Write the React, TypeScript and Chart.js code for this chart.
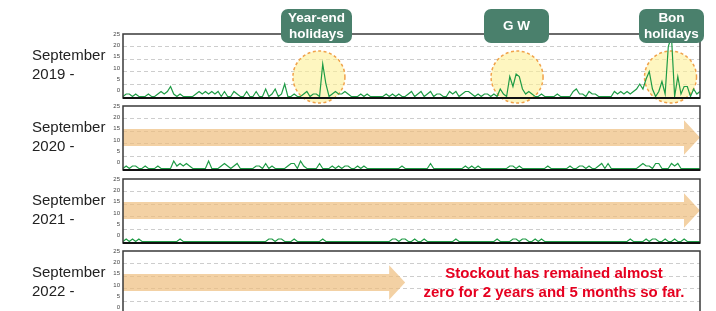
import React, { useEffect, useRef } from "react";
import { Chart, registerables } from "chart.js";

Chart.register(...registerables);

const FONT = '"Liberation Sans", Arial, Helvetica, sans-serif';

// ---------- data ----------
const periodLabels = [
  ["September", "2019 -"],
  ["September", "2020 -"],
  ["September", "2021 -"],
  ["September", "2022 -"],
];
const yTicks = [0, 5, 10, 15, 20, 25];
const dayLabels = Array.from({ length: 183 }, (_, i) => `Day ${i * 2 + 1}`);

const stockout2019 = [
  0, 1, 1, 0, 1, 0, 0, 0, 1, 0, 0, 1, 2, 1, 2, 4, 1, 0, 1, 0,
  0, 0, 0, 1, 2, 1, 2, 1, 2, 1, 2, 0, 2, 0, 0, 2, 1, 0, 0, 2,
  0, 0, 2, 0, 0, 3, 0, 1, 3, 0, 1, 5, 0, 0, 1, 0, 0, 1, 2, 0,
  1, 1, 0, 13, 5, 0, 1, 2, 1, 1, 2, 1, 0, 0, 0, 1, 0, 1, 0, 0,
  0, 0, 0, 1, 0, 1, 0, 1, 0, 0, 1, 2, 0, 1, 2, 0, 1, 2, 0, 1,
  1, 0, 0, 2, 1, 2, 0, 1, 2, 2, 1, 0, 1, 0, 1, 1, 0, 1, 0, 3,
  1, 0, 8, 4, 9, 8, 3, 1, 2, 1, 0, 0, 1, 0, 0, 0, 0, 1, 0, 0,
  0, 0, 2, 3, 1, 1, 0, 2, 1, 1, 0, 0, 0, 0, 0, 2, 1, 2, 1, 2,
  1, 2, 3, 5, 3, 7, 10, 3, 0, 2, 6, 1, 20, 24, 0, 8, 1, 4, 4, 0,
  3, 1, 2,
];
const stockout2020 = [
  0, 1, 0, 1, 1, 0, 0, 1, 0, 0, 0, 1, 0, 0, 0, 0, 3, 1, 2, 1,
  2, 1, 0, 0, 0, 0, 0, 3, 0, 0, 0, 1, 2, 1, 0, 1, 2, 0, 0, 0,
  0, 0, 1, 1, 0, 2, 0, 1, 0, 0, 0, 0, 1, 2, 2, 0, 3, 1, 0, 0,
  0, 0, 2, 0, 0, 0, 1, 0, 1, 0, 1, 1, 0, 0, 1, 0, 1, 0, 0, 0,
  0, 0, 0, 0, 0, 0, 0, 0, 1, 0, 0, 0, 0, 0, 0, 0, 0, 2, 0, 0,
  0, 0, 0, 0, 0, 0, 0, 0, 1, 0, 1, 0, 1, 0, 0, 0, 0, 0, 0, 0,
  0, 0, 1, 1, 0, 1, 0, 0, 0, 0, 0, 0, 0, 0, 1, 0, 0, 0, 0, 0,
  0, 1, 0, 0, 1, 1, 0, 1, 0, 0, 1, 2, 0, 2, 0, 0, 0, 0, 0, 0,
  0, 0, 0, 1, 2, 1, 1, 0, 2, 2, 0, 0, 0, 2, 1, 2, 0, 0, 0, 0,
  0, 0, 0,
];
const stockout2021 = [
  0, 1, 0, 1, 0, 1, 0, 0, 0, 0, 0, 0, 0, 0, 0, 0, 0, 0, 1, 0,
  0, 0, 0, 0, 0, 0, 0, 0, 0, 0, 0, 0, 0, 0, 0, 0, 0, 0, 0, 0,
  0, 0, 0, 0, 0, 0, 1, 1, 0, 1, 1, 0, 0, 0, 1, 0, 0, 0, 0, 0,
  0, 0, 0, 1, 0, 0, 0, 0, 0, 0, 0, 0, 0, 0, 0, 0, 0, 0, 0, 0,
  0, 0, 0, 0, 0, 1, 1, 0, 1, 1, 0, 0, 1, 0, 0, 1, 0, 0, 0, 0,
  0, 0, 0, 0, 0, 1, 0, 0, 0, 0, 0, 0, 0, 0, 0, 0, 0, 0, 1, 0,
  0, 0, 0, 1, 1, 0, 1, 1, 0, 0, 1, 0, 1, 0, 0, 0, 0, 0, 0, 0,
  0, 0, 0, 0, 0, 0, 0, 0, 0, 0, 0, 0, 0, 0, 0, 0, 0, 0, 0, 0,
  1, 0, 0, 0, 0, 1, 0, 1, 1, 0, 0, 1, 0, 0, 1, 0, 0, 1, 0, 0,
  0, 0, 0,
];
const stockout2022 = [
  0, 0, 0, 0, 0, 0, 0, 0, 0, 0, 0, 0, 0, 0, 0, 0, 0, 0, 0, 0,
  0, 0, 0, 0, 0, 0, 0, 0, 0, 0, 0, 0, 0, 0, 0, 0, 0, 0, 0, 0,
  0, 0, 0, 0, 0, 0, 0, 0, 0, 0, 0, 0, 0, 0, 0, 0, 0, 0, 0, 0,
  0, 0, 0, 0, 0, 0, 0, 0, 0, 0, 0, 0, 0, 0, 0, 0, 0, 0, 0, 0,
  0, 0, 0, 0, 0, 0, 0, 0,
];
const holidayNames = [["Year-end", "holidays"], ["G W"], ["Bon", "holidays"]];
const holidayDayIndex = [61.8, 124.3, 172.7];
const holidayCircleValue = 7.8;
const noteLines = ["Stockout has remained almost", "zero for 2 years and 5 months so far."];

// ---------- layout ----------
const W = 716;
const PLOT_LEFT = 123;
const PLOT_RIGHT = 700;
const PANEL_TOPS = [34, 106, 179, 251];
const PANEL_H = 64;
const PAD = 10;

type Decor = {
  circles?: { index: number; value: number }[];
  arrow?: { from: number; to: number };
};

function Panel({ data, top, decor }: { data: number[]; top: number; decor: Decor }) {
  const ref = useRef<HTMLCanvasElement>(null);
  useEffect(() => {
    const canvas = ref.current!;
    const decorPlugin = {
      id: "decor",
      beforeDatasetsDraw(chart: any) {
        const ctx = chart.ctx;
        const xs = chart.scales.x;
        const ys = chart.scales.y;
        if (decor.circles) {
          for (const c of decor.circles) {
            const cx = xs.getPixelForValue(c.index);
            const cy = ys.getPixelForValue(c.value);
            ctx.save();
            ctx.beginPath();
            ctx.arc(cx, cy, 26, 0, Math.PI * 2);
            ctx.fillStyle = "rgba(253,240,150,0.6)";
            ctx.fill();
            ctx.setLineDash([3, 2.5]);
            ctx.strokeStyle = "#f0a24a";
            ctx.lineWidth = 1.5;
            ctx.stroke();
            ctx.restore();
          }
        }
        if (decor.arrow) {
          const a = decor.arrow;
          const x0 = xs.getPixelForValue(a.from);
          const x1 = xs.getPixelForValue(a.to);
          const hb = x1 - 16;
          const s1 = ys.getPixelForValue(15.8);
          const s2 = ys.getPixelForValue(9);
          const h1 = ys.getPixelForValue(19.3);
          const h2 = ys.getPixelForValue(5.5);
          const ym = (h1 + h2) / 2;
          ctx.save();
          ctx.beginPath();
          ctx.moveTo(x0, s1);
          ctx.lineTo(hb, s1);
          ctx.lineTo(hb, h1);
          ctx.lineTo(x1, ym);
          ctx.lineTo(hb, h2);
          ctx.lineTo(hb, s2);
          ctx.lineTo(x0, s2);
          ctx.closePath();
          ctx.fillStyle = "rgba(238,189,126,0.7)";
          ctx.fill();
          ctx.restore();
        }
      },
      afterDraw(chart: any) {
        const ctx = chart.ctx;
        const { left, top, right, bottom } = chart.chartArea;
        ctx.save();
        ctx.strokeStyle = "#3a3a3a";
        ctx.lineWidth = 1.5;
        ctx.strokeRect(left, top, right - left, bottom - top);
        ctx.strokeStyle = "#111";
        ctx.lineWidth = 2;
        ctx.beginPath();
        ctx.moveTo(left, bottom);
        ctx.lineTo(right, bottom);
        ctx.stroke();
        ctx.restore();
      },
    };
    const chart = new Chart(canvas, {
      type: "line",
      data: {
        labels: dayLabels,
        datasets: [
          {
            data,
            borderColor: "#1e9b45",
            borderWidth: 1.2,
            pointRadius: 0,
            tension: 0,
            fill: false,
            yAxisID: "y",
          },
        ],
      },
      options: {
        responsive: false,
        animation: false,
        maintainAspectRatio: false,
        layout: { padding: { left: 0, right: W - PLOT_RIGHT, top: PAD, bottom: PAD } },
        plugins: { legend: { display: false }, tooltip: { enabled: false } },
        scales: {
          x: { display: false, offset: false },
          y: {
            position: "left",
            min: -0.6,
            max: 25,
            afterBuildTicks: (s: any) => {
              s.ticks = yTicks.map((v) => ({ value: v }));
            },
            afterFit: (s: any) => {
              s.width = 0;
            },
            ticks: { display: false },
            grid: {
              color: (c: any) =>
                c.tick && c.tick.value > 0 && c.tick.value < 25 ? "#cdcdcd" : "rgba(0,0,0,0)",
              lineWidth: 1,
              drawTicks: false,
            },
            border: { display: false, dash: [4, 3] },
          },
          yl: {
            position: "left",
            min: -3.2,
            max: 25,
            afterBuildTicks: (s: any) => {
              s.ticks = yTicks.map((v) => ({ value: v }));
            },
            afterFit: (s: any) => {
              s.width = PLOT_LEFT;
            },
            ticks: { font: { size: 6, family: FONT }, color: "#444", padding: 3 },
            grid: { display: false, drawTicks: false },
            border: { display: false },
          },
        },
      } as any,
      plugins: [decorPlugin],
    });
    return () => chart.destroy();
  }, [data, top, decor]);
  return (
    <canvas
      ref={ref}
      width={W}
      height={PANEL_H + PAD * 2}
      style={{ position: "absolute", left: 0, top: top - PAD, width: W, height: PANEL_H + PAD * 2 }}
    />
  );
}

const series = [stockout2019, stockout2020, stockout2021, stockout2022];
const decors: Decor[] = [
  { circles: holidayDayIndex.map((i) => ({ index: i, value: holidayCircleValue })) },
  { arrow: { from: 0, to: 182 } },
  { arrow: { from: 0, to: 182 } },
  { arrow: { from: 0, to: 89 } },
];

const boxes = [
  { left: 281, width: 71 },
  { left: 484, width: 65 },
  { left: 639, width: 65 },
];

export default function App() {
  return (
    <div
      style={{
        position: "absolute",
        left: 0,
        top: 0,
        width: W,
        height: 311,
        overflow: "hidden",
        background: "#fff",
        fontFamily: FONT,
      }}
    >
      {series.map((d, k) => (
        <Panel key={k} data={d} top={PANEL_TOPS[k]} decor={decors[k]} />
      ))}
      {periodLabels.map((lines, k) => (
        <div
          key={"l" + k}
          style={{
            position: "absolute",
            left: 32,
            top: PANEL_TOPS[k] + 12,
            fontSize: 15,
            lineHeight: "18.5px",
            color: "#222",
            whiteSpace: "nowrap",
          }}
        >
          {lines[0]}
          <br />
          {lines[1]}
        </div>
      ))}
      {holidayNames.map((lines, k) => (
        <div
          key={"b" + k}
          style={{
            position: "absolute",
            left: boxes[k].left,
            top: 9,
            width: boxes[k].width,
            height: 34,
            borderRadius: 7,
            background: "#4a806c",
            color: "#fff",
            fontWeight: "bold",
            fontSize: 13.5,
            lineHeight: "16px",
            display: "flex",
            flexDirection: "column",
            alignItems: "center",
            justifyContent: "center",
            textAlign: "center",
            whiteSpace: "nowrap",
          }}
        >
          {lines.map((t, j) => (
            <span key={j}>{t}</span>
          ))}
        </div>
      ))}
      <div
        style={{
          position: "absolute",
          left: 404,
          top: 262.5,
          width: 300,
          textAlign: "center",
          color: "#e60020",
          fontWeight: "bold",
          fontSize: 15,
          lineHeight: "19.4px",
          whiteSpace: "nowrap",
        }}
      >
        {noteLines[0]}
        <br />
        {noteLines[1]}
      </div>
    </div>
  );
}
